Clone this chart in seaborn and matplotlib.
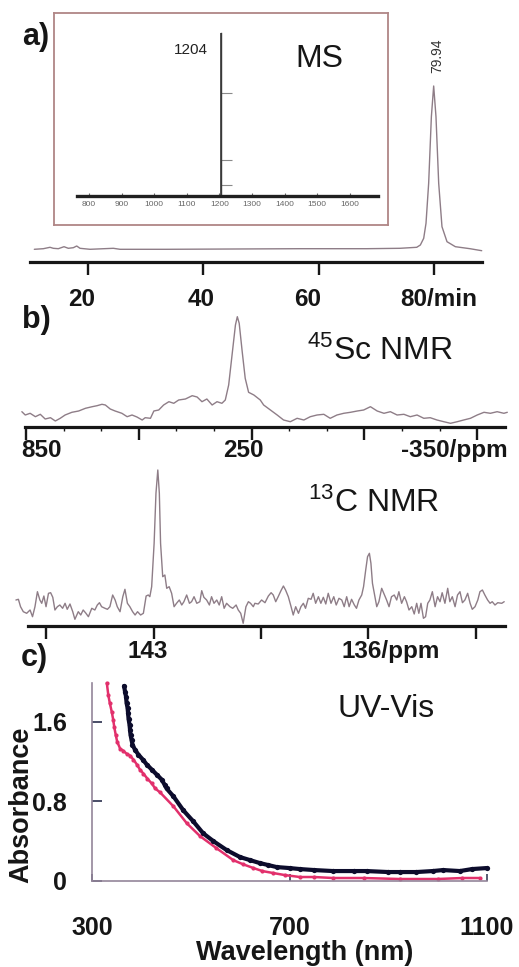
import matplotlib
matplotlib.use("Agg")
import matplotlib.pyplot as plt
import seaborn as sns

sns.set_theme(style="ticks")
plt.rcParams["font.family"] = ["Liberation Sans", "DejaVu Sans"]
plt.rcParams["mathtext.fontset"] = "custom"
plt.rcParams["mathtext.rm"] = "Liberation Sans"
plt.rcParams["mathtext.default"] = "regular"

# ---------------- data ----------------
# a) HPLC chromatogram (retention time / min, detector signal)
hplc_time = [10.69, 12.25, 13.41, 13.98, 14.85, 15.84, 16.58, 17.45, 18.04, 18.61,
             20.35, 24.39, 25.55, 33.65, 45.2, 56.76, 68.33, 74.1, 77.0, 77.63,
             78.21, 78.61, 79.07, 79.54, 79.94, 80.34, 80.81, 81.38, 82.25, 83.7,
             86.24, 88.27]
hplc_signal = [12.7, 13.3, 14.7, 13.7, 13.3, 15.3, 13.7, 14.3, 16.0, 13.7,
               12.7, 13.7, 12.7, 12.7, 13.0, 13.3, 13.3, 13.7, 14.7, 17.0,
               23.7, 38.7, 78.7, 145.3, 176.0, 145.3, 78.7, 35.3, 20.3, 15.3,
               13.3, 11.3]
hplc_ticks = [20, 40, 60, 80]
hplc_tick_labels = ["20", "40", "60", "80/min"]

# inset: mass spectrum
ms_mz = [1204]
ms_intensity = [100]
ms_ticks = [800, 900, 1000, 1100, 1200, 1300, 1400, 1500, 1600]
ms_marks = [7, 22, 63]

# b) 45Sc NMR (ppm, intensity)
sc_shift = [861, 852, 839, 825, 812, 799, 785, 772, 759, 746,
            728, 710, 692, 674, 661, 648, 639, 626, 613, 595,
            581, 568, 555, 541, 533, 519, 510, 497, 484, 470,
            457, 444, 426, 408, 395, 382, 369, 355, 342, 329,
            320, 311, 302, 293, 288, 283, 275, 267, 258, 244,
            227, 218, 200, 182, 165, 147, 129, 111, 94, 76,
            58, 41, 23, 5, -13, -31, -48, -66, -84, -102,
            -119, -137, -155, -172, -190, -208, -225, -243, -261, -279,
            -297, -314, -332, -350, -368, -385, -403, -421, -430]
sc_signal = [15.3, 12.0, 13.7, 10.3, 12.7, 8.0, 9.3, 6.0, 8.7, 12.0,
             14.7, 16.0, 18.7, 20.3, 21.3, 22.7, 22.0, 18.0, 16.0, 13.7,
             10.3, 12.0, 10.0, 7.0, 9.3, 8.7, 16.0, 17.0, 22.0, 25.3,
             23.7, 27.0, 28.0, 31.3, 30.0, 25.3, 28.0, 22.0, 25.3, 23.7,
             27.0, 42.0, 72.0, 102.0, 110.3, 103.7, 75.3, 48.7, 34.7, 32.0,
             27.0, 22.0, 17.0, 12.0, 7.0, 5.3, 8.7, 7.0, 10.3, 12.0,
             12.7, 8.7, 12.0, 13.7, 14.7, 16.0, 17.0, 20.3, 16.0, 13.7,
             15.3, 12.0, 12.7, 10.3, 12.0, 8.7, 9.3, 7.0, 5.3, 3.7,
             5.3, 7.0, 8.7, 12.0, 14.7, 13.7, 15.3, 13.7, 14.7]
sc_ticks = [850, 550, 250, -50, -350]
sc_tick_labels = ["850", "", "250", "", "-350/ppm"]
sc_minor = [750, 650, 450, 350, 150, 50, -150, -250]

# 13C NMR (ppm, intensity)
c13_shift = [147.48, 147.40, 147.33, 147.24, 147.13, 147.02, 146.94, 146.86, 146.78, 146.70,
             146.64, 146.57, 146.50, 146.42, 146.35, 146.28, 146.21, 146.13, 146.05, 145.96,
             145.88, 145.81, 145.72, 145.63, 145.56, 145.45, 145.37, 145.29, 145.20, 145.12,
             145.01, 144.91, 144.83, 144.76, 144.69, 144.58, 144.50, 144.42, 144.33, 144.25,
             144.18, 144.09, 144.00, 143.93, 143.85, 143.77, 143.68, 143.60, 143.52, 143.42,
             143.33, 143.24, 143.17, 143.12, 143.06, 142.98, 142.92, 142.86, 142.81, 142.77,
             142.70, 142.63, 142.57, 142.49, 142.41, 142.33, 142.25, 142.16, 142.08, 142.01,
             141.92, 141.83, 141.76, 141.68, 141.59, 141.49, 141.43, 141.36, 141.27, 141.18,
             141.11, 141.03, 140.94, 140.86, 140.78, 140.70, 140.62, 140.51, 140.42, 140.31,
             140.24, 140.16, 140.08, 139.99, 139.91, 139.84, 139.75,
             139.70, 139.59, 139.48, 139.37, 139.26, 139.17, 139.10, 139.02, 138.94, 138.85,
             138.77, 138.70, 138.61, 138.52, 138.45, 138.37, 138.28, 138.20, 138.12, 138.05,
             137.96, 137.87, 137.80, 137.72, 137.63, 137.55, 137.47, 137.39, 137.31, 137.22,
             137.13, 137.05, 136.96, 136.87, 136.79, 136.71, 136.63, 136.55, 136.46, 136.39,
             136.31, 136.22, 136.16, 136.09, 136.03, 135.97, 135.92, 135.87, 135.81, 135.73,
             135.66, 135.57, 135.48, 135.41, 135.33, 135.25, 135.16, 135.08, 135.01, 134.92,
             134.83, 134.76, 134.68, 134.59, 134.51, 134.43, 134.36, 134.29, 134.21, 134.14,
             134.07, 134.00, 133.92, 133.83, 133.75, 133.67, 133.60, 133.51, 133.42, 133.35,
             133.27, 133.18, 133.10, 133.02, 132.94, 132.86, 132.77, 132.69, 132.62, 132.53,
             132.44, 132.37, 132.29, 132.21, 132.12, 132.04, 131.97, 131.88, 131.79, 131.66,
             131.58]
c13_signal = [26.0, 26.7, 19.3, 14.3, 12.7, 16.0, 9.3, 19.3, 34.3, 26.0,
              22.7, 30.0, 19.3, 32.7, 33.3, 28.7, 16.0, 19.3, 21.0, 17.7,
              22.7, 16.7, 22.0, 14.3, 6.7, 14.3, 11.0, 16.0, 12.7, 9.3,
              17.7, 16.0, 21.0, 23.3, 19.3, 17.7, 16.7, 19.3, 31.0, 26.0,
              19.3, 14.3, 29.3, 36.7, 22.7, 19.3, 14.3, 11.0, 14.3, 11.0,
              12.7, 30.0, 31.0, 29.3, 39.3, 82.7, 132.7, 156.0, 132.7, 82.7,
              49.3, 51.0, 37.7, 39.3, 32.7, 19.3, 22.7, 26.0, 21.0, 24.3,
              31.0, 22.7, 24.3, 29.3, 22.7, 24.3, 35.3, 28.7, 26.0, 21.0,
              29.3, 22.7, 26.0, 21.0, 29.3, 17.7, 22.7, 19.3, 17.7, 21.0,
              16.0, 12.7, 2.7, 19.3, 24.3, 22.7, 19.3,
              22.7, 22.0, 26.0, 23.3, 30.0, 33.3, 31.0, 24.3, 29.3, 35.3,
              40.0, 36.0, 29.3, 19.3, 11.0, 19.3, 12.7, 19.3, 22.7, 17.7,
              27.7, 26.7, 32.7, 22.7, 29.3, 22.7, 28.7, 22.0, 32.7, 22.7,
              29.3, 21.0, 27.7, 26.0, 19.3, 29.3, 19.3, 26.7, 21.0, 17.7,
              26.0, 31.0, 39.3, 56.0, 69.3, 72.7, 62.7, 42.7, 32.7, 19.3,
              24.3, 37.7, 31.0, 26.0, 19.3, 29.3, 31.0, 26.0, 34.3, 22.7,
              29.3, 24.3, 16.0, 19.3, 12.0, 22.7, 12.7, 22.7, 7.7, 9.3,
              22.7, 26.0, 34.3, 19.3, 29.3, 24.3, 33.3, 22.7, 37.7, 24.3,
              29.3, 19.3, 31.0, 34.3, 23.3, 26.0, 32.7, 22.7, 16.7, 19.3,
              26.0, 34.3, 36.0, 31.0, 26.0, 22.7, 24.3, 21.0, 23.3, 22.7,
              24.3]
c13_ticks = [146.5, 143, 139.5, 136, 132.5]
c13_tick_labels = ["", "143", "", "136/ppm", ""]

# c) UV-Vis absorption spectra
uv_black_nm = [365, 367, 369, 370, 372, 373, 374, 376, 377, 378, 380, 382, 387, 394,
               403, 411, 421, 431, 441, 448, 451, 465, 485, 505, 525, 546, 573, 600,
               620, 640, 657, 674, 700, 721, 750, 788, 830, 856, 900, 923, 957, 990,
               1011, 1045, 1070, 1099]
uv_black_abs = [1.96, 1.90, 1.85, 1.79, 1.74, 1.69, 1.63, 1.57, 1.52, 1.47, 1.42, 1.37,
                1.32, 1.27, 1.22, 1.17, 1.12, 1.07, 1.02, 0.96, 0.93, 0.85, 0.71, 0.60,
                0.48, 0.40, 0.31, 0.24, 0.21, 0.18, 0.16, 0.14, 0.13, 0.12, 0.11, 0.10,
                0.10, 0.10, 0.09, 0.09, 0.09, 0.10, 0.11, 0.10, 0.12, 0.13]
uv_red_nm = [330, 333, 336, 340, 343, 345, 348, 351, 357, 363, 370, 377, 384, 391, 397,
             404, 412, 421, 428, 438, 465, 492, 519, 552, 586, 605, 627, 645, 667, 690,
             721, 750, 788, 850, 923, 1000, 1050, 1085]
uv_red_abs = [1.99, 1.87, 1.79, 1.70, 1.62, 1.55, 1.47, 1.40, 1.33, 1.31, 1.28, 1.26,
              1.22, 1.17, 1.12, 1.08, 1.03, 0.98, 0.93, 0.89, 0.75, 0.58, 0.45, 0.33,
              0.21, 0.17, 0.13, 0.10, 0.08, 0.06, 0.04, 0.04, 0.03, 0.03, 0.02, 0.02,
              0.03, 0.03]
uv_ticks_x = [300, 700, 1100]
uv_ticks_y = [0, 0.8, 1.6]
uv_tick_labels_y = ["0", "0.8", "1.6"]

# ---------------- layout helpers ----------------
W, H = 519, 967
fig = plt.figure(figsize=(W / 100, H / 100), dpi=100)
fig.patch.set_facecolor("white")

TRACE = "#8e7d87"
INK = "#161616"


def rect(left, top, right, bottom):
    return [left / W, 1 - bottom / H, (right - left) / W, (bottom - top) / H]


def fig_text(x, y, s, **kw):
    return fig.text(x / W, 1 - y / H, s, **kw)


def baseline_axis(ax):
    for side in ["left", "right", "top"]:
        ax.spines[side].set_visible(False)
    ax.spines["bottom"].set_color(INK)
    ax.spines["bottom"].set_linewidth(2.3)
    ax.set_yticks([])
    ax.tick_params(axis="x", which="both", direction="out", bottom=True,
                   labelbottom=False, color=INK)
    ax.tick_params(axis="x", which="major", length=9.5, width=1.7)
    ax.tick_params(axis="x", which="minor", length=3, width=1.0)
    ax.set_facecolor("none")


def tick_texts(ax, values, labels, dxs, drop):
    for v, lab, dx in zip(values, labels, dxs):
        if not lab:
            continue
        ax.annotate(lab, xy=(v, 0), xycoords=ax.get_xaxis_transform(),
                    xytext=(dx, -drop), textcoords="offset pixels",
                    ha="center", va="baseline", fontsize=17.5,
                    fontweight="bold", color=INK, annotation_clip=False)


def trace(ax, x, y, color=TRACE, lw=1.0):
    sns.lineplot(x=x, y=y, ax=ax, color=color, lw=lw, sort=False,
                 estimator=None)
    for ln in ax.lines:
        ln.set_clip_on(False)


# ---------------- a) HPLC ----------------
ax_a = fig.add_axes(rect(30, 80, 482, 262))
trace(ax_a, hplc_time, hplc_signal)
ax_a.set_xlim(9.94, 88.32)
ax_a.set_ylim(0, 182)
ax_a.set_xticks(hplc_ticks)
baseline_axis(ax_a)
ax_a.set_xlabel("")
ax_a.set_ylabel("")
tick_texts(ax_a, hplc_ticks, hplc_tick_labels, [-6, -2, -11, 5], 44)
peak_i = hplc_signal.index(max(hplc_signal))
ax_a.annotate(f"{hplc_time[peak_i]:.2f}", xy=(hplc_time[peak_i], hplc_signal[peak_i]),
              xytext=(4, 13), textcoords="offset pixels", rotation=90,
              ha="center", va="bottom", fontsize=10, color="#333333",
              annotation_clip=False)

# inset frame
ax_frame = fig.add_axes(rect(54, 13, 388, 225))
ax_frame.set_xticks([])
ax_frame.set_yticks([])
ax_frame.set_facecolor("none")
for s in ax_frame.spines.values():
    s.set_color("#b08686")
    s.set_linewidth(1.3)

# inset mass spectrum
ax_ms = fig.add_axes(rect(77, 33, 378, 196))
ax_ms.set_facecolor("none")
ax_ms.vlines(ms_mz, 0, ms_intensity, color="#3a3a3a", lw=1.2)
ax_ms.set_xlim(763.2, 1686.5)
ax_ms.set_ylim(0, 100)
ax_ms.spines["top"].set_visible(False)
ax_ms.spines["right"].set_visible(False)
ax_ms.spines["bottom"].set_color("#202020")
ax_ms.spines["bottom"].set_linewidth(2.4)
ax_ms.spines["left"].set_position(("data", ms_mz[0]))
ax_ms.spines["left"].set_color("#3a3a3a")
ax_ms.spines["left"].set_linewidth(1.0)
ax_ms.set_yticks(ms_marks)
ax_ms.tick_params(axis="y", direction="in", left=True, length=8, width=0.8,
                  color="#8a8a8a", labelleft=False)
ax_ms.set_xticks(ms_ticks)
ax_ms.set_xticklabels([str(t) for t in ms_ticks])
ax_ms.tick_params(axis="x", direction="in", bottom=True, length=2, width=0.8,
                  color="#666666", labelsize=6, labelcolor="#666666", pad=3.5)
ax_ms.annotate(f"{ms_mz[0]}", xy=(ms_mz[0], ms_intensity[0]), xytext=(-30, -17),
               textcoords="offset pixels", ha="center", va="center",
               fontsize=11, color="#222222", annotation_clip=False)

fig_text(319, 67, "MS", fontsize=23, ha="center", va="baseline", color=INK)
fig_text(36, 37, "a)", fontsize=22, fontweight="bold", ha="center", va="center", color=INK)

# ---------------- b) 45Sc NMR ----------------
ax_sc = fig.add_axes(rect(25, 300, 505, 427))
trace(ax_sc, sc_shift, sc_signal)
ax_sc.set_xlim(852.66, -423.9)
ax_sc.set_ylim(0, 127)
ax_sc.set_xticks(sc_ticks)
ax_sc.set_xticks(sc_minor, minor=True)
baseline_axis(ax_sc)
ax_sc.set_xlabel("")
ax_sc.set_ylabel("")
tick_texts(ax_sc, sc_ticks, sc_tick_labels, [15, 0, -8.6, 0, -23], 30)
fig_text(307, 360, r"$^{45}$Sc NMR", fontsize=23, ha="left", va="baseline", color=INK)
fig_text(36, 320, "b)", fontsize=22, fontweight="bold", ha="center", va="center", color=INK)

# 13C NMR
ax_c13 = fig.add_axes(rect(28, 460, 505, 626))
trace(ax_c13, c13_shift, c13_signal)
ax_c13.set_xlim(147.087, 131.554)
ax_c13.set_ylim(0, 166)
ax_c13.set_xticks(c13_ticks)
baseline_axis(ax_c13)
ax_c13.set_xlabel("")
ax_c13.set_ylabel("")
tick_texts(ax_c13, c13_ticks, c13_tick_labels, [0, -5.5, 0, 22.5, 0], 32)
fig_text(308, 512, r"$^{13}$C NMR", fontsize=23, ha="left", va="baseline", color=INK)

# ---------------- c) UV-Vis ----------------
ax_uv = fig.add_axes(rect(92, 683, 487, 881))
ax_uv.set_facecolor("none")
sns.lineplot(x=uv_red_nm, y=uv_red_abs, ax=ax_uv, color="#e2306c", lw=1.8,
             marker="o", markersize=3, markeredgewidth=0, sort=False, estimator=None)
sns.lineplot(x=uv_black_nm, y=uv_black_abs, ax=ax_uv, color="#0c0c2c", lw=3.0,
             marker="o", markersize=3.8, markeredgewidth=0, sort=False, estimator=None)
for ln in ax_uv.lines:
    ln.set_clip_on(False)
ax_uv.set_xlim(300, 1100)
ax_uv.set_ylim(0, 1.99)
ax_uv.spines["top"].set_visible(False)
ax_uv.spines["right"].set_visible(False)
for s in ["left", "bottom"]:
    ax_uv.spines[s].set_color("#93859a")
    ax_uv.spines[s].set_linewidth(1.2)
ax_uv.set_xticks(uv_ticks_x)
ax_uv.set_xticklabels([str(t) for t in uv_ticks_x])
ax_uv.set_yticks(uv_ticks_y)
ax_uv.set_yticklabels(uv_tick_labels_y)
ax_uv.tick_params(axis="x", direction="in", bottom=True, length=5, width=1.2,
                  color="#3a3f5a", labelsize=18, pad=25.5, labelcolor=INK)
ax_uv.tick_params(axis="y", direction="in", left=True, length=7, width=1.3,
                  color="#3a3f5a", labelsize=18, pad=18, labelcolor=INK)
for lab in ax_uv.get_xticklabels() + ax_uv.get_yticklabels():
    lab.set_fontweight("bold")
ax_uv.set_xlabel("")
ax_uv.set_ylabel("")
fig_text(305, 960, "Wavelength (nm)", fontsize=19.5, fontweight="bold",
         ha="center", va="baseline", color=INK)
fig_text(21, 805, "Absorbance", fontsize=19.5, fontweight="bold", rotation=90,
         ha="center", va="center", color=INK)
fig_text(386, 717, "UV-Vis", fontsize=23, ha="center", va="baseline", color=INK)
fig_text(34, 658, "c)", fontsize=22, fontweight="bold", ha="center", va="center", color=INK)

fig.savefig("out.png", dpi=100, facecolor="white")
